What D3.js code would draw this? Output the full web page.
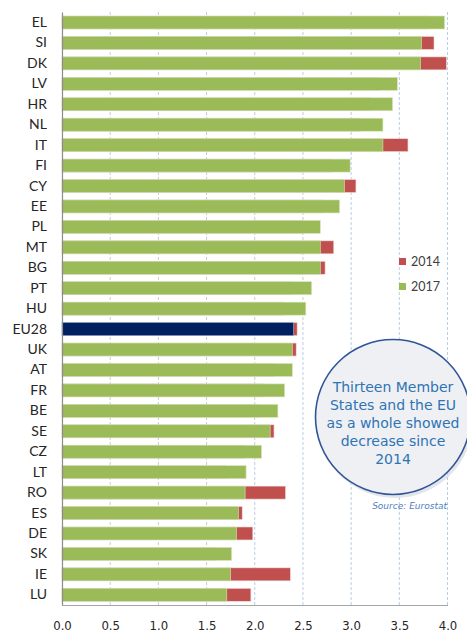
<!DOCTYPE html>
<html>
<head>
<meta charset="utf-8">
<style>
  body { margin: 0; background: #fff; }
  .cat text { font-family: Lato, "Open Sans", sans-serif; font-size: 14px; fill: #262626; }
  .xaxis text { font-family: "DejaVu Sans Condensed", "DejaVu Sans", sans-serif; font-size: 13px; fill: #262626; }
</style>
</head>
<body>
<svg width="467" height="634"></svg>
<script src="https://cdn.jsdelivr.net/npm/d3@7/dist/d3.min.js"></script>
<script>
// countries, top to bottom
var countries = ["EL","SI","DK","LV","HR","NL","IT","FI","CY","EE","PL","MT","BG","PT","HU",
                 "EU28","UK","AT","FR","BE","SE","CZ","LT","RO","ES","DE","SK","IE","LU"];
var v2017 = [3.97,3.73,3.72,3.48,3.43,3.33,3.33,2.99,2.93,2.88,2.68,2.68,2.68,2.59,2.53,
             2.40,2.39,2.39,2.31,2.24,2.16,2.07,1.91,1.90,1.83,1.81,1.76,1.75,1.71];
// 2014 is drawn behind 2017, only visible where it was higher
var v2014 = [3.80,3.86,3.99,3.30,3.20,3.10,3.59,2.80,3.05,2.70,2.50,2.82,2.73,2.40,2.30,
             2.44,2.43,2.20,2.10,2.05,2.20,1.90,1.70,2.32,1.87,1.98,1.60,2.37,1.96];
var xTicks = [0,0.5,1,1.5,2,2.5,3,3.5,4];
var legendItems = ["2014","2017"];
var noteLines = ["Thirteen Member","States and the EU","as a whole showed","decrease since","2014"];

var green = "#9bbb59", red = "#c0504d", navy = "#002060";

var svg = d3.select("svg"),
    margin = {top: 12, right: 20, bottom: 29, left: 62},
    width = +svg.attr("width") - margin.left - margin.right,
    height = +svg.attr("height") - margin.top - margin.bottom;

var x = d3.scaleLinear().domain([0, 4]).range([0, 385.5]);
var y = d3.scaleBand().domain(countries).range([0, 593.3])
    .paddingInner(0.364).paddingOuter(0.196);

var g = svg.append("g")
    .attr("transform", "translate(" + margin.left + "," + margin.top + ")");

// dashed vertical gridlines
g.selectAll(".grid")
  .data(xTicks.slice(1))
  .enter().append("line")
    .attr("x1", function(d) { return x(d); })
    .attr("x2", function(d) { return x(d); })
    .attr("y1", 0).attr("y2", 593)
    .attr("stroke", "#b9cde5")
    .attr("stroke-dasharray", "3,2")
    .attr("stroke-width", 1);

var data = countries.map(function(c, i) { return {c: c, a: v2017[i], b: v2014[i]}; });

g.selectAll(".b2014")
  .data(data)
  .enter().append("rect")
    .attr("x", 0)
    .attr("y", function(d) { return y(d.c); })
    .attr("height", y.bandwidth())
    .attr("width", function(d) { return x(d.b); })
    .attr("fill", red)
    .attr("stroke", "#f2dcdb").attr("stroke-width", 0.6);

g.selectAll(".b2017")
  .data(data)
  .enter().append("rect")
    .attr("x", 0)
    .attr("y", function(d) { return y(d.c); })
    .attr("height", y.bandwidth())
    .attr("width", function(d) { return x(d.a); })
    .attr("fill", function(d) { return d.c === "EU28" ? navy : green; })
    .attr("stroke", function(d) { return d.c === "EU28" ? "#8ea9db" : "#d7e4bd"; })
    .attr("stroke-width", 0.6);

// left axis with labels
var ya = g.append("g").attr("class", "cat")
    .call(d3.axisLeft(y).tickSize(0).tickPadding(15));
ya.select(".domain").attr("stroke", "#8c8c8c").attr("stroke-width", 1.2);

// bottom axis
var xa = g.append("g").attr("class", "xaxis")
    .attr("transform", "translate(0,593)")
    .call(d3.axisBottom(x).tickValues(xTicks).tickFormat(d3.format(".1f")).tickSize(0).tickPadding(16));
xa.select(".domain").attr("stroke", "#a6a6a6").attr("stroke-width", 1.2);

// legend
var lg = svg.append("g").attr("transform", "translate(399,258)");
lg.selectAll("rect")
  .data(legendItems)
  .enter().append("rect")
    .attr("x", 0)
    .attr("y", function(d, i) { return i * 25; })
    .attr("width", 7).attr("height", 7)
    .attr("fill", function(d, i) { return i ? green : red; });
lg.selectAll("text")
  .data(legendItems)
  .enter().append("text")
    .attr("x", 12)
    .attr("y", function(d, i) { return i * 25 + 8; })
    .style("font-family", "Lato, sans-serif")
    .style("font-size", "12.5px")
    .style("fill", "#404040")
    .text(function(d) { return d; });

// note bubble
var note = svg.append("g").attr("transform", "translate(393,417)");
note.append("circle")
    .attr("cx", 2).attr("cy", 3).attr("r", 78)
    .attr("fill", "#d0d4dc").attr("opacity", 0.6);
note.append("circle")
    .attr("r", 77.5)
    .attr("fill", "#eff0f3")
    .attr("stroke", "#2f5597")
    .attr("stroke-width", 1.6);
note.selectAll("text")
  .data(noteLines)
  .enter().append("text")
    .attr("text-anchor", "middle")
    .attr("y", function(d, i) { return -25 + i * 18; })
    .style("font-family", "'DejaVu Sans', Verdana, sans-serif")
    .style("font-size", "14px")
    .style("fill", "#2e74b5")
    .text(function(d) { return d; });

svg.append("text")
    .attr("x", 447).attr("y", 509)
    .attr("text-anchor", "end")
    .style("font-family", "'DejaVu Sans', Verdana, sans-serif")
    .style("font-size", "9px")
    .style("font-style", "italic")
    .style("fill", "#4f81bd")
    .text("Source: Eurostat");
</script>
</body>
</html>
